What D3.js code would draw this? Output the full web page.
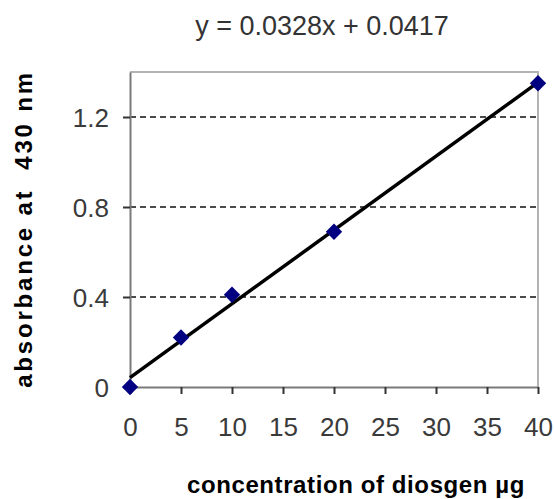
<!DOCTYPE html>
<html>
<head>
<meta charset="utf-8">
<script src="https://cdn.jsdelivr.net/npm/d3@7"></script>
<style>
  body { margin: 0; background: #fff; }
  text { font-family: "Liberation Sans", Arial, sans-serif; }
</style>
</head>
<body>
<div class="main"></div>
<script>
  // values
  var concentration = [0, 5, 10, 20, 40];
  var absorbance = [0.0, 0.22, 0.41, 0.69, 1.35];
  var xTicks = [0, 5, 10, 15, 20, 25, 30, 35, 40];
  var yTicks = [0, 0.4, 0.8, 1.2];
  var slope = 0.0328, intercept = 0.0417;

  var W = 554, H = 499;
  var margin = {top: 72, right: 16, bottom: 112, left: 130};
  var w = W - margin.left - margin.right;
  var h = H - margin.top - margin.bottom;

  var x = d3.scaleLinear().domain([0, 40]).range([0, w]);
  var y = d3.scaleLinear().domain([0, 1.4]).range([h, 0]);

  var svg = d3.select(".main")
    .append("svg")
      .attr("width", W)
      .attr("height", H);

  var g = svg.append("g")
      .attr("transform", "translate(" + margin.left + "," + margin.top + ")");

  // dashed gridlines
  g.selectAll(".grid")
    .data(yTicks.filter(function(d) { return d > 0; }))
    .enter().append("line")
      .attr("x1", 0)
      .attr("x2", w)
      .attr("y1", function(d) { return y(d); })
      .attr("y2", function(d) { return y(d); })
      .style("stroke", "#111")
      .style("stroke-width", 1.6)
      .style("stroke-dasharray", "6,4");

  // top + right frame
  g.append("path")
      .attr("d", "M0,0H" + w + "V" + h)
      .style("fill", "none")
      .style("stroke", "#b4b4b4")
      .style("stroke-width", 2);

  var xAxis = g.append("g")
      .attr("transform", "translate(0," + h + ")")
      .call(d3.axisBottom(x).tickValues(xTicks).tickSize(7).tickPadding(24).tickSizeOuter(0));

  var yAxis = g.append("g")
      .call(d3.axisLeft(y).tickValues(yTicks).tickSize(7).tickPadding(14).tickSizeOuter(0)
        .tickFormat(function(d) { return d === 0 ? "0" : d3.format(".1f")(d); }));

  [xAxis, yAxis].forEach(function(a) {
    a.select(".domain").style("stroke", "#7a7a7a").style("stroke-width", 2);
    a.selectAll(".tick line").style("stroke", "#333").style("stroke-width", 2);
    a.selectAll(".tick text")
      .style("font-size", "26px")
      .style("fill", "#3a3a3a")
      .style("font-family", "Liberation Sans, Arial, sans-serif");
  });
  xAxis.selectAll(".tick text").attr("dy", "0.71em");
  yAxis.selectAll(".tick text").attr("dy", "0.36em");

  // trend line
  g.append("line")
      .attr("x1", x(0))
      .attr("y1", y(intercept))
      .attr("x2", x(40))
      .attr("y2", y(slope * 40 + intercept))
      .style("stroke", "#000")
      .style("stroke-width", 3.5);

  // diamond markers
  var pts = concentration.map(function(c, i) { return [c, absorbance[i]]; });
  g.selectAll(".pt")
    .data(pts)
    .enter().append("path")
      .attr("d", d3.symbol().type(d3.symbolDiamond2).size(170))
      .attr("transform", function(d) { return "translate(" + x(d[0]) + "," + y(d[1]) + ")"; })
      .style("fill", "#000080");

  // equation
  svg.append("text")
      .attr("x", 322)
      .attr("y", 35)
      .text("y = 0.0328x + 0.0417")
      .style("text-anchor", "middle")
      .style("font-size", "27px")
      .style("fill", "#333");

  // axis titles
  svg.append("text")
      .attr("x", 356)
      .attr("y", 493)
      .text("concentration of diosgen µg")
      .style("text-anchor", "middle")
      .style("font-weight", "bold")
      .style("font-size", "24px")
      .style("letter-spacing", "0.6px")
      .style("fill", "#000");

  svg.append("text")
      .attr("transform", "translate(32,229) rotate(-90)")
      .text("absorbance at  430 nm")
      .style("text-anchor", "middle")
      .style("white-space", "pre")
      .style("font-weight", "bold")
      .style("font-size", "24px")
      .style("letter-spacing", "2.8px")
      .style("fill", "#000");
</script>
</body>
</html>
